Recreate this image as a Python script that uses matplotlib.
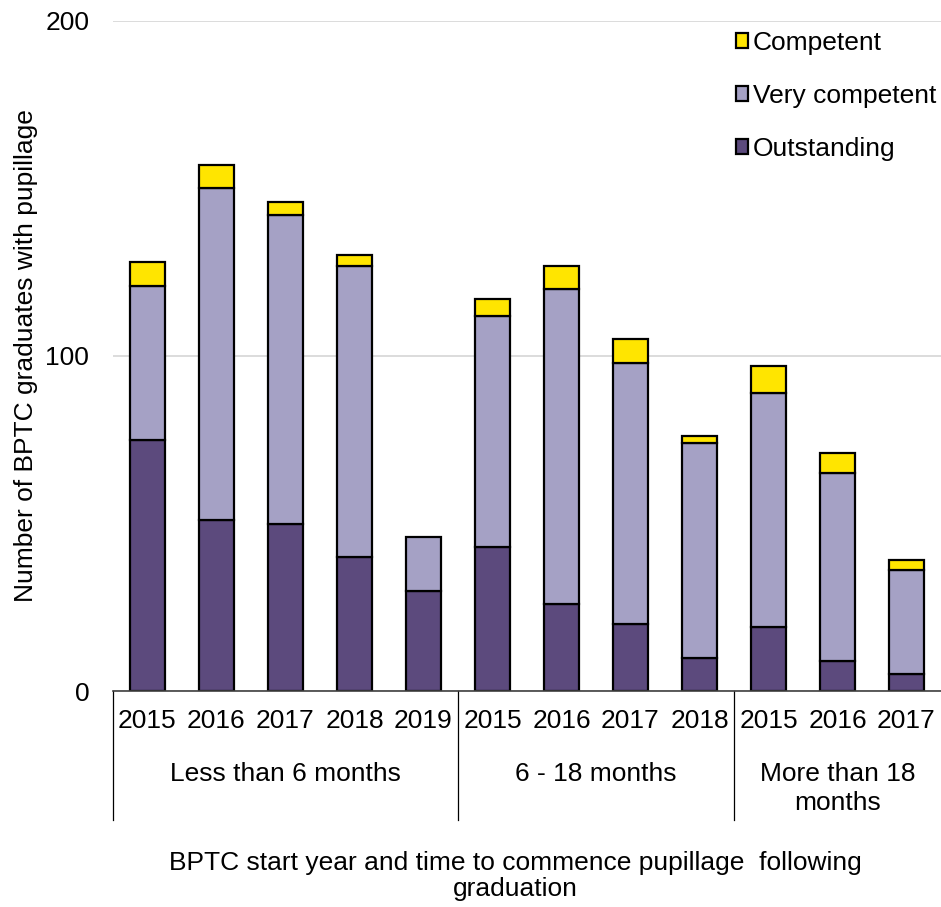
import matplotlib.pyplot as plt
import numpy as np

plt.rcParams['font.family'] = ['Liberation Sans', 'DejaVu Sans']

years = ['2015', '2016', '2017', '2018', '2019',
         '2015', '2016', '2017', '2018',
         '2015', '2016', '2017']
groups = ['Less than 6 months', '6 - 18 months', 'More than 18\nmonths']
group_sizes = [5, 4, 3]

outstanding = [75, 51, 50, 40, 30, 43, 26, 20, 10, 19, 9, 5]
very_competent = [46, 99, 92, 87, 16, 69, 94, 78, 64, 70, 56, 31]
competent = [7, 7, 4, 3, 0, 5, 7, 7, 2, 8, 6, 3]

c_out = '#5c4a7d'
c_vc = '#a5a1c5'
c_comp = '#ffe500'

fs = 19

fig = plt.figure(figsize=(9.41, 9.07), dpi=100)
ax = fig.add_axes([0.120, 0.238, 0.880, 0.739])

x = np.arange(len(years))
out = np.array(outstanding)
vc = np.array(very_competent)
comp = np.array(competent)

kw = dict(width=0.5, edgecolor='black', linewidth=1.6, zorder=3)
b1 = ax.bar(x, out, color=c_out, **kw)
b2 = ax.bar(x, vc, bottom=out, color=c_vc, **kw)
mask = comp > 0
b3 = ax.bar(x[mask], comp[mask], bottom=(out + vc)[mask], color=c_comp, **kw)

ax.set_xlim(-0.5, len(years) - 0.5)
ax.set_ylim(0, 200)
ax.set_yticks([0, 100, 200])
ax.tick_params(axis='y', length=0, labelsize=fs, pad=17)
ax.yaxis.grid(True, color='#d9d9d9', linewidth=1.3, zorder=0)
ax.set_axisbelow(True)
for s in ['top', 'right', 'left']:
    ax.spines[s].set_visible(False)
ax.spines['bottom'].set_color('#404040')
ax.spines['bottom'].set_linewidth(1.2)
ax.spines['bottom'].set_zorder(4)

ax.set_xticks(x)
ax.set_xticklabels(years, fontsize=fs)
ax.tick_params(axis='x', length=0, pad=13)

# group separators and labels
trans = ax.get_xaxis_transform()
start = 0
bounds = [-0.5]
for g, n in zip(groups, group_sizes):
    ax.text(start + (n - 1) / 2, -0.105, g,
            transform=trans, ha='center', va='top', fontsize=fs,
            linespacing=1.3)
    start += n
    bounds.append(start - 0.5)
for b in bounds[:-1]:
    ax.plot([b, b], [0, -0.1925], transform=trans, color='black',
            linewidth=0.9, clip_on=False)

ax.set_ylabel('Number of BPTC graduates with pupillage', fontsize=fs)
ax.yaxis.set_label_coords(-0.091, 0.5)
fig.text(0.548, 0.034, 'BPTC start year and time to commence pupillage  following\ngraduation',
         ha='center', va='center', fontsize=fs, linespacing=1.1)

leg = ax.legend([b3, b2, b1], ['Competent', 'Very competent', 'Outstanding'],
                loc='upper left', bbox_to_anchor=(0.746, 0.993), frameon=False,
                fontsize=fs, handlelength=0.45, handleheight=0.45,
                handletextpad=0.2, labelspacing=1.1, borderaxespad=0.0,
                borderpad=0.2)

fig.savefig('out.png', dpi=100)
